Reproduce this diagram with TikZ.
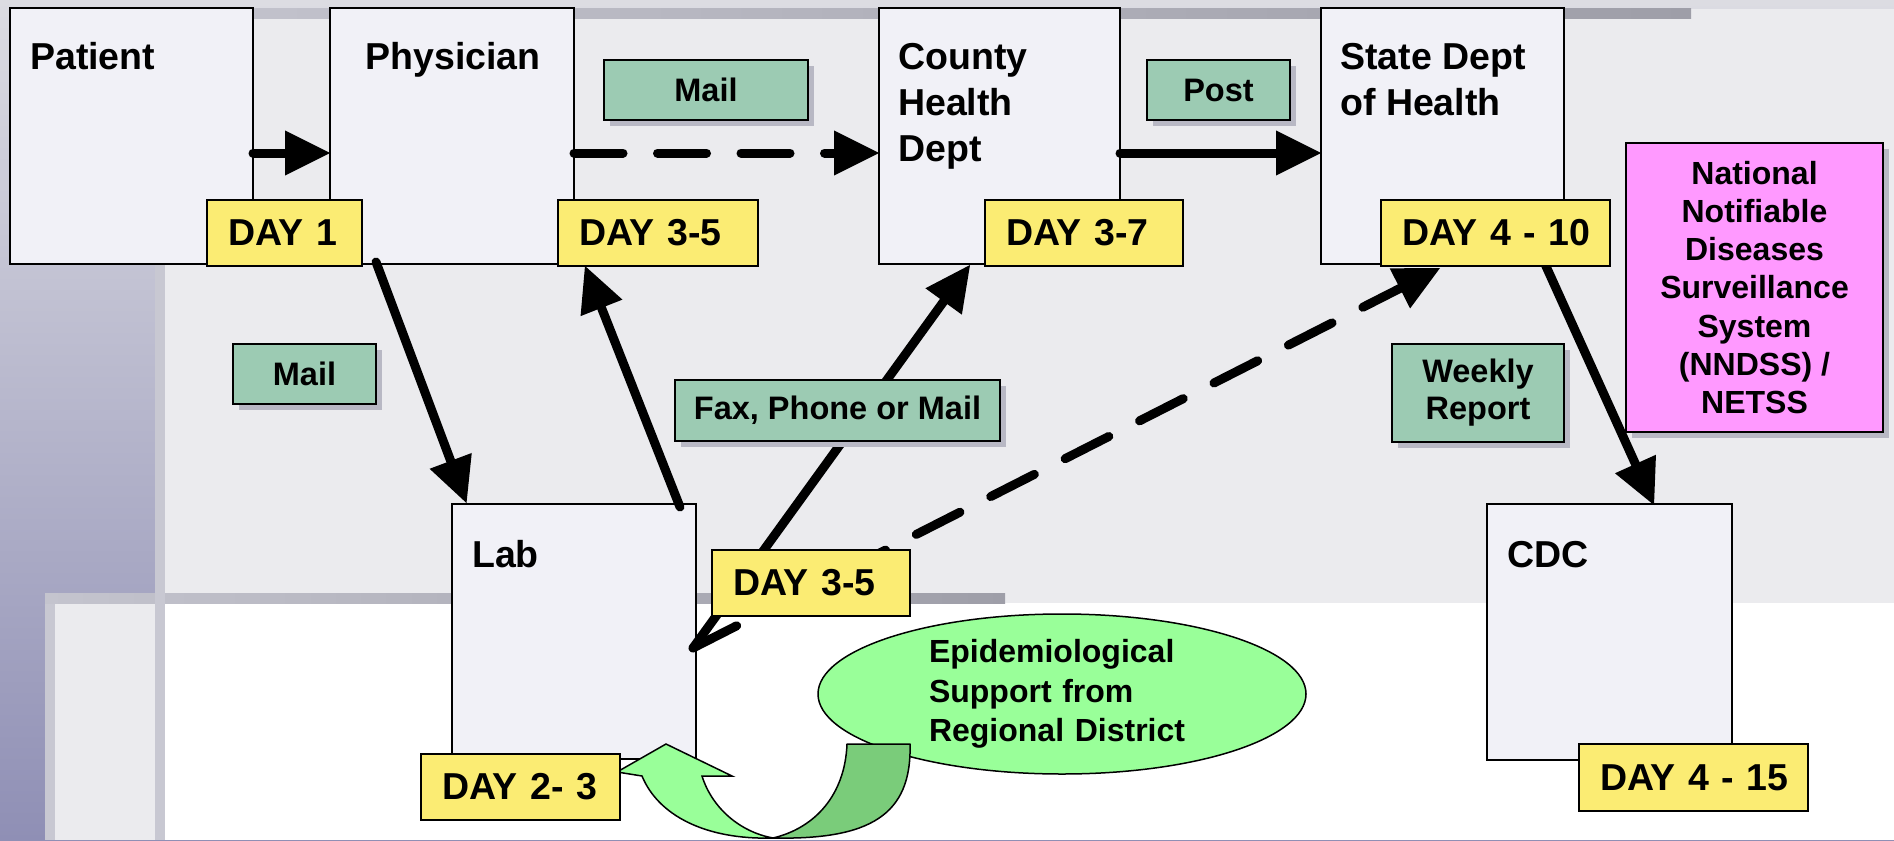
\documentclass[tikz,border=0pt]{standalone}
\usepackage{fontspec}
\setmainfont{Liberation Sans}
\usetikzlibrary{arrows.meta,shapes.geometric,shadows}
\newcommand\myfs[2]{\fontsize{#1pt}{#2pt}\selectfont\bfseries}
\definecolor{boxfill}{HTML}{F1F1F7}
\definecolor{dayfill}{HTML}{FBEC73}
\definecolor{lblfill}{HTML}{9CCBB3}
\definecolor{pinkfill}{HTML}{FF99FF}
\definecolor{ellfill}{HTML}{99FF99}
\definecolor{darkgreen}{HTML}{7ACC7A}
\definecolor{panel}{HTML}{EBEBEE}
\definecolor{bgtop}{HTML}{DCDCE2}
\definecolor{bgbot}{HTML}{8F8FB5}
\definecolor{strip}{HTML}{C8C8D2}
\definecolor{barL}{HTML}{C4C4CE}
\definecolor{barR}{HTML}{9E9EA8}
\definecolor{shgray}{HTML}{B8B8C4}
\pgfdeclarelayer{bg}
\pgfdeclarelayer{front}
\pgfsetlayers{bg,main,front}
\tikzset{
  box/.style={draw=black, line width=1.5pt, fill=boxfill, anchor=north west, inner sep=0pt, outer sep=0pt},
  title/.style={font=\myfs{37.5}{46}, inner sep=0pt, align=left},
  day/.style={draw=black, line width=1.5pt, fill=dayfill, anchor=north west, font=\myfs{37.5}{44}, inner ysep=0pt, inner xsep=21pt, align=left, minimum height=66pt, outer sep=0pt},
  lbl/.style={draw=black, line width=1.5pt, fill=lblfill, anchor=north west, font=\myfs{32.5}{37}, inner sep=0pt, align=center, outer sep=0pt, general shadow={fill=shgray, shadow xshift=6pt, shadow yshift=-6pt}},
  flow/.style={line width=9pt, line cap=round, -{Triangle[length=45pt,width=45pt,line width=0pt]}},
  dflow/.style={flow, dash pattern=on 49pt off 34.5pt},
  bandline/.style={draw=black, line width=1.5pt}
}
\begin{document}
\begin{tikzpicture}[x=1pt,y=-1pt]
\useasboundingbox (0,0) rectangle (1894,840);
% background
\begin{pgfonlayer}{bg}
\shade[top color=bgtop, bottom color=bgbot] (0,0) rectangle (1894,840);
\fill[panel] (155,9) rectangle (1894,603);
\shade[left color=barL, right color=barR] (155,9) rectangle (1691,19);
\fill[panel] (55,603) rectangle (155,840);
\fill[white] (165,603) rectangle (1894,840);
\fill[strip] (45,593) rectangle (55,840);
\shade[left color=barL, right color=barR] (45,593) rectangle (1005,603);
\fill[strip] (155,19) rectangle (165,840);
\end{pgfonlayer}

% boxes
\node[box, minimum width=243pt, minimum height=256pt] (patient) at (10,8) {};
\node[box, minimum width=244pt, minimum height=256pt] (physician) at (330,8) {};
\node[box, minimum width=241pt, minimum height=256pt] (county) at (879,8) {};
\node[box, minimum width=243pt, minimum height=256pt] (state) at (1321,8) {};
\node[box, minimum width=244pt, minimum height=255pt] (lab) at (452,504) {};
\node[box, minimum width=245pt, minimum height=256pt] (cdc) at (1487,504) {};

\node[title, anchor=base west] (tpat) at (30,70) {Patient};
\node[title, anchor=base] (tphy) at (453,70) {Physician};
\node[title, anchor=north west] (tcou) at (898,43) {County\\Health\\Dept};
\node[title, anchor=north west] (tsta) at (1340,43) {State Dept\\of Health};
\node[title, anchor=base west] (tlab) at (472,567) {Lab};
\node[title, anchor=base west] (tcdc) at (1507,567) {CDC};

% ellipse
\node[draw=black, line width=1.5pt, fill=ellfill, ellipse, minimum width=488pt, minimum height=160pt, inner sep=0pt, text width=266pt, align=left, font=\myfs{32}{39.5}] (epi) at (1062,694) {Epidemiological\\Support from\\Regional District};

% curved block arrow
\draw[bandline, fill=darkgreen, line join=round] (847,744) -- (910,744) .. controls (912,815) and (870,840) .. (773,838) .. controls (815,828) and (845,795) .. cycle;
\draw[bandline, fill=ellfill, line join=miter] (642,776) -- (617,772) -- (666,744) -- (732,776) -- (702,776) .. controls (712,808) and (740,832) .. (773,838) .. controls (705,840) and (658,815) .. cycle;

\begin{pgfonlayer}{front}
% green labels
\node[lbl, minimum width=143pt, minimum height=60pt] (mail1) at (233,344) {Mail};
\node[lbl, minimum width=204pt, minimum height=60pt] (mail2) at (604,60) {Mail};
\node[lbl, minimum width=143pt, minimum height=60pt] (post) at (1147,60) {Post};
\node[lbl, minimum width=325pt, minimum height=61pt] (fax) at (675,380) {Fax, Phone or Mail};
\node[lbl, minimum width=172pt, minimum height=98pt] (weekly) at (1392,344) {Weekly\\Report};
\node[lbl, fill=pinkfill, minimum width=257pt, minimum height=289pt, font=\myfs{32}{38.3}] (nndss) at (1626,143) {National\\Notifiable\\Diseases\\Surveillance\\System\\(NNDSS) /\\NETSS};
% day labels
\node[day, text width=113pt] (day1) at (207,200) {\mbox{DAY 1}};
\node[day, text width=158pt] (day35a) at (558,200) {\mbox{DAY 3-5}};
\node[day, text width=156pt] (day37) at (985,200) {\mbox{DAY 3-7}};
\node[day, text width=187pt] (day410) at (1381,200) {\mbox{DAY 4 - 10}};
\node[day, text width=156pt] (day35b) at (712,550) {\mbox{DAY 3-5}};
\node[day, text width=157pt] (day23) at (421,754) {\mbox{DAY 2- 3}};
\node[day, text width=187pt, minimum height=67pt] (day415) at (1579,744) {\mbox{DAY 4 - 15}};
\end{pgfonlayer}

% connectors
\draw[flow] ([yshift=-17pt]patient.east) -- ([yshift=-17pt]physician.west);
\draw[dflow] ([yshift=-17pt]physician.east) -- ([yshift=-17pt]county.west);
\draw[flow] ([yshift=-17pt]county.east) -- ([yshift=-17pt]state.west);
\draw[flow] ([xshift=-76pt,yshift=2pt]physician.south) -- ([xshift=14.5pt,yshift=1pt]lab.north west);
\draw[flow] ([xshift=-16pt,yshift=-3pt]lab.north east) -- ([xshift=27pt]day35a.south west);
\draw[flow] ([xshift=-3pt,yshift=-16.5pt]lab.east) -- ([xshift=-29.5pt,yshift=-1pt]county.south);
\draw[dflow] ([xshift=-3pt,yshift=-16.5pt]lab.east) -- ([xshift=59pt,yshift=-2pt]day410.south west);
\draw[flow] ([xshift=-19pt]state.south east) -- ([xshift=-78pt,yshift=-1pt]cdc.north east);
\end{tikzpicture}
\end{document}
